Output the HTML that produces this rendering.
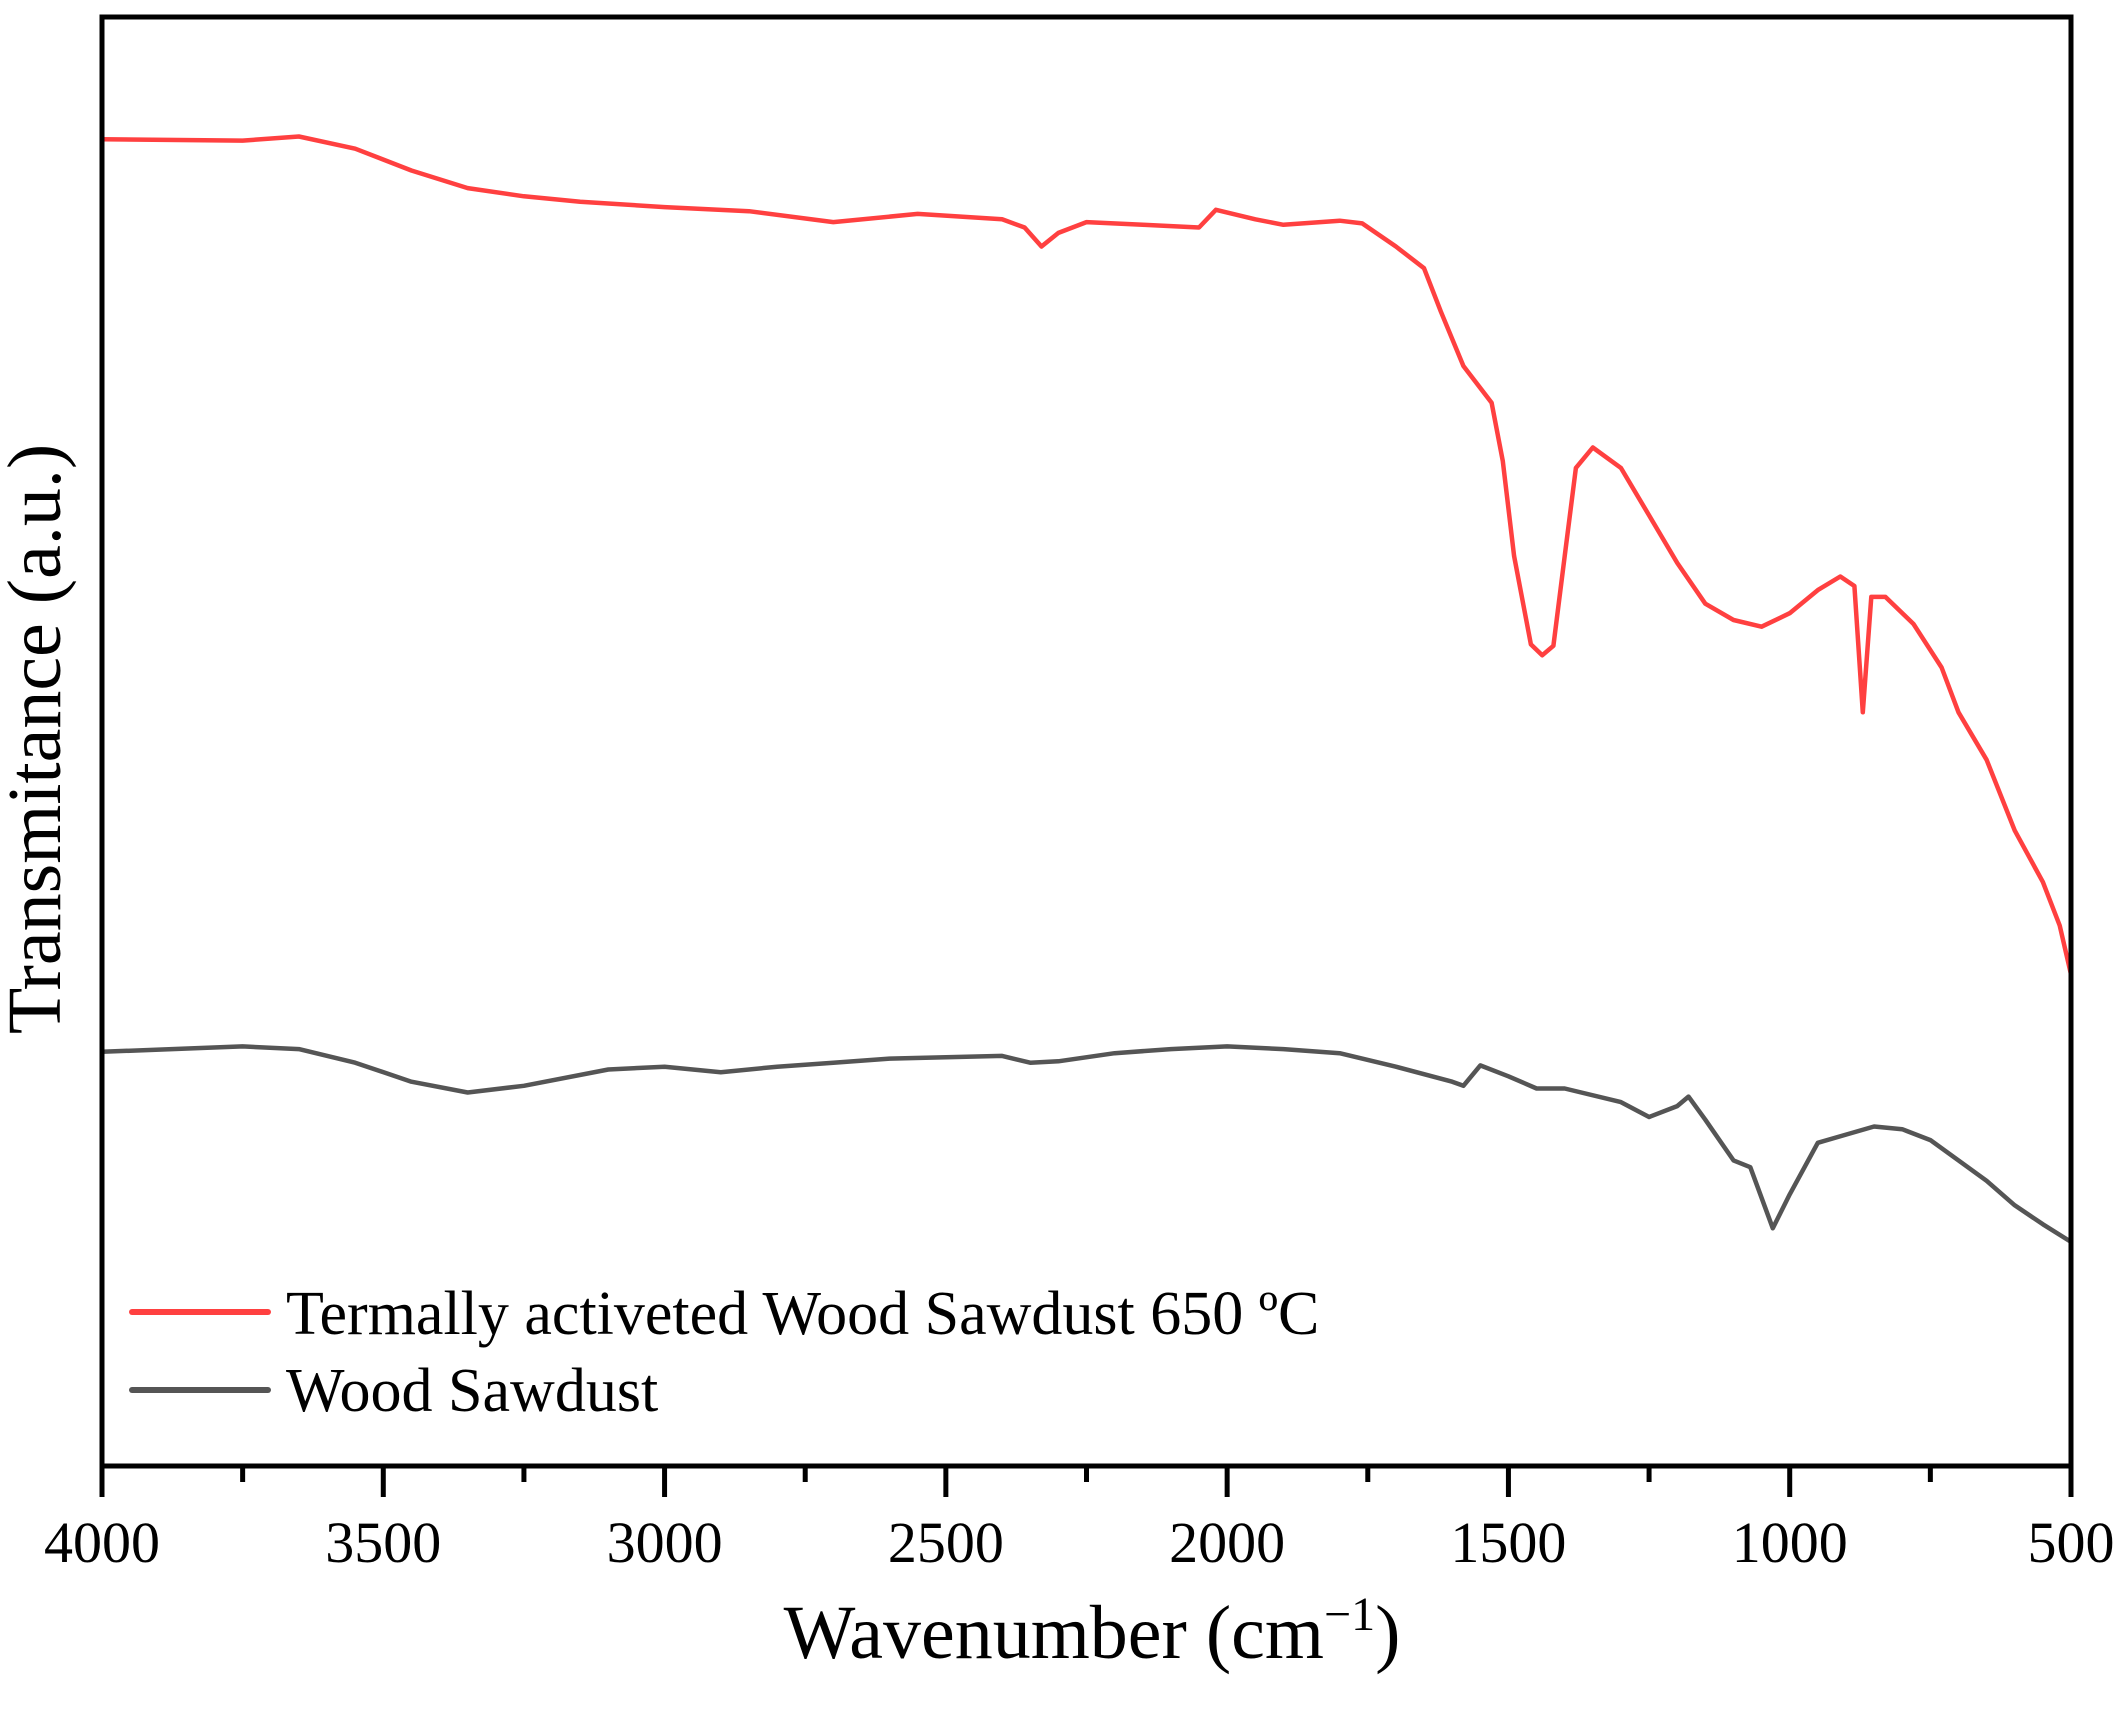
<!DOCTYPE html>
<html><head><meta charset="utf-8"><style>
html,body{margin:0;padding:0;background:#fff;}
svg{display:block;font-family:"Liberation Serif",serif;}
</style></head><body>
<svg id="chart" width="2127" height="1710" viewBox="0 0 2127 1710">
<g id="plot"></g>
</svg>
<script>
const wnRed=[4000,3750,3650,3550,3450,3350,3250,3150,3000,2850,2700,2550,2400,2360,2330,2300,2250,2150,2050,2020,1950,1900,1800,1760,1700,1650,1620,1580,1530,1510,1490,1460,1440,1420,1400,1380,1350,1300,1250,1200,1150,1100,1050,1000,950,910,885,870,855,830,780,730,700,650,600,550,520,500];
const tRed=[9.77,9.76,9.79,9.70,9.54,9.41,9.35,9.31,9.27,9.24,9.16,9.22,9.18,9.12,8.98,9.08,9.16,9.14,9.12,9.25,9.18,9.14,9.17,9.15,8.98,8.82,8.50,8.10,7.83,7.40,6.70,6.05,5.97,6.04,6.70,7.35,7.50,7.35,7.00,6.65,6.35,6.23,6.18,6.28,6.45,6.55,6.48,5.55,6.40,6.40,6.20,5.88,5.55,5.20,4.68,4.30,3.98,3.62];
const wnGray=[4000,3750,3650,3550,3450,3350,3250,3100,3000,2900,2800,2700,2600,2400,2350,2300,2200,2100,2000,1900,1800,1700,1600,1580,1550,1500,1450,1400,1300,1250,1200,1180,1150,1100,1070,1030,1000,950,900,850,800,750,700,650,600,550,500];
const tGray=[3.05,3.09,3.07,2.97,2.83,2.75,2.80,2.92,2.94,2.90,2.94,2.97,3.00,3.02,2.97,2.98,3.04,3.07,3.09,3.07,3.04,2.94,2.83,2.80,2.95,2.87,2.78,2.78,2.68,2.57,2.65,2.72,2.55,2.25,2.20,1.75,2.00,2.38,2.44,2.50,2.48,2.40,2.25,2.10,1.92,1.78,1.65];
const xTicks=[4000,3500,3000,2500,2000,1500,1000,500];
const xMinor=[3750,3250,2750,2250,1750,1250,750];

const L=102,R=2071,T=17,B=1466;
const X=w=>L+(4000-w)/3500*(R-L);
const Y=v=>B-v/10.67*(B-T);
const NS='http://www.w3.org/2000/svg';
const g=document.getElementById('plot');
function mk(tag,attrs,parent){const e=document.createElementNS(NS,tag);for(const k in attrs)e.setAttribute(k,attrs[k]);(parent||g).appendChild(e);return e;}

function series(wn,t,color,name){
  const p=mk('polyline',{points:wn.map((w,i)=>X(w).toFixed(1)+','+Y(t[i]).toFixed(1)).join(' '),fill:'none',stroke:color,'stroke-width':4.5,'stroke-linejoin':'round'});
  
  
}
series(wnGray,tGray,'#555555','wood-sawdust-line');
series(wnRed,tRed,'#ff4040','activated-sawdust-line');

const frame=mk('rect',{x:L,y:T,width:R-L,height:B-T,fill:'none',stroke:'#000','stroke-width':5});



xTicks.forEach(w=>{
  const t=mk('line',{x1:X(w),x2:X(w),y1:B,y2:B+31,stroke:'#000','stroke-width':5});
  
  
  const lb=mk('text',{x:X(w),y:1562,'font-size':58,'text-anchor':'middle'});
  lb.textContent=w;
  
  
});
xMinor.forEach(w=>{
  const t=mk('line',{x1:X(w),x2:X(w),y1:B,y2:B+16,stroke:'#000','stroke-width':5});
  
  
});
</script>
<svg style="position:absolute;left:0;top:0" width="2127" height="1710">
<text x="1092" y="1658" font-size="76" text-anchor="middle" font-family="Liberation Serif, serif">Wavenumber (cm<tspan dy="-28" font-size="48">−1</tspan><tspan dy="28">)</tspan></text>
<text transform="translate(60,739) rotate(-90)" font-size="76" text-anchor="middle" font-family="Liberation Serif, serif">Transmitance (a.u.)</text>
<g>
<line x1="132" y1="1312" x2="268" y2="1312" stroke="#ff4040" stroke-width="6" stroke-linecap="round"/>
<text x="286" y="1334" font-size="62" font-family="Liberation Serif, serif">Termally activeted Wood Sawdust 650 ºC</text>
<line x1="132" y1="1390" x2="268" y2="1390" stroke="#555555" stroke-width="6" stroke-linecap="round"/>
<text x="286" y="1411" font-size="62" font-family="Liberation Serif, serif">Wood Sawdust</text>
</g>
</svg>
</body></html>
